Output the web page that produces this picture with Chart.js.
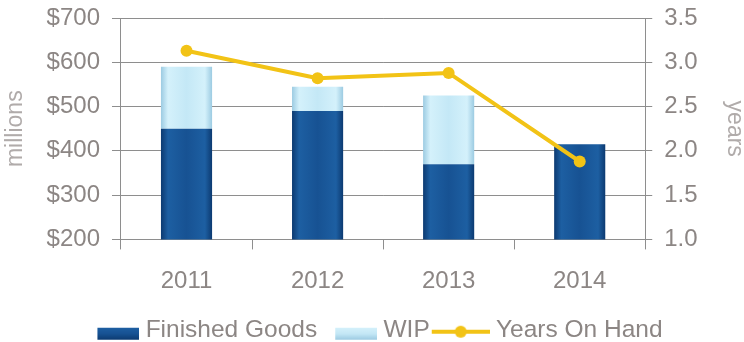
<!DOCTYPE html>
<html>
<head>
<meta charset="utf-8">
<script src="https://cdn.jsdelivr.net/npm/chart.js@4.4.0/dist/chart.umd.min.js"></script>
<style>
  html, body { margin: 0; padding: 0; background: #ffffff; overflow: hidden; }
  #wrap { width: 744px; height: 342px; position: relative; overflow: hidden; }
  #c { display: block; }
</style>
</head>
<body>
<div id="wrap"><canvas id="c" width="744" height="352"></canvas></div>
<script>
// Inventory by year
const years = ['2011', '2012', '2013', '2014'];
const finishedGoods = [450, 490, 370, 415];   // $ millions
const wip = [140, 55, 155, 0];                // $ millions
const yearsOnHand = [3.13, 2.82, 2.88, 1.88]; // years

const leftTicks = [200, 300, 400, 500, 600, 700];
const rightTicks = [1.0, 1.5, 2.0, 2.5, 3.0, 3.5];

const TEXT = '#8c8684';
const TITLE = '#b0abaa';
const AXIS = '#8e8e8e';
const GOLD = '#f2c316';
const FONT = 'Liberation Sans, Arial, sans-serif';
const BAR_PCT = 0.39;

const darkStops = ['#0c3a71', '#1d5fa2', '#175293', '#1d5fa2', '#0c3a71'];
const lightStops = ['#9ccbe2', '#d4f1fb', '#c4e8f6', '#d4f1fb', '#9ccbe2'];

function barGradient(stops, fallback) {
  return function (c) {
    const chart = c.chart;
    const xs = chart.scales && chart.scales.x;
    if (!chart.chartArea || !xs) return fallback;
    const cx = xs.getPixelForValue(c.dataIndex);
    const w = (xs.width / years.length) * BAR_PCT;
    const g = chart.ctx.createLinearGradient(cx - w / 2, 0, cx + w / 2, 0);
    g.addColorStop(0, stops[0]);
    g.addColorStop(0.14, stops[1]);
    g.addColorStop(0.5, stops[2]);
    g.addColorStop(0.86, stops[3]);
    g.addColorStop(1, stops[4]);
    return g;
  };
}

// legend symbols: drawn flush right inside a wider transparent canvas
const SYM_W = 62;
const SYM_H = 22;
function swatch(stops) {
  const cv = document.createElement('canvas');
  cv.width = SYM_W; cv.height = SYM_H;
  const x = cv.getContext('2d');
  const g = x.createLinearGradient(0, 9, 0, 21);
  g.addColorStop(0, stops[1]);
  g.addColorStop(0.5, stops[2]);
  g.addColorStop(1, stops[0]);
  x.fillStyle = g;
  x.fillRect(SYM_W - 42, 9, 42, 12);
  return cv;
}
function lineSwatch() {
  const cv = document.createElement('canvas');
  cv.width = SYM_W; cv.height = SYM_H;
  const x = cv.getContext('2d');
  x.strokeStyle = GOLD; x.lineWidth = 4;
  x.beginPath(); x.moveTo(SYM_W - 58, 13); x.lineTo(SYM_W, 13); x.stroke();
  x.fillStyle = GOLD;
  x.beginPath(); x.arc(SYM_W - 29, 13, 6, 0, Math.PI * 2); x.fill();
  return cv;
}
const legendSymbols = [swatch(darkStops), swatch(lightStops), lineSwatch()];
const legendNames = ['Finished Goods', 'WIP', 'Years On Hand'];

new Chart(document.getElementById('c'), {
  data: {
    labels: years,
    datasets: [
      {
        type: 'line',
        label: 'Years On Hand',
        data: yearsOnHand,
        yAxisID: 'y1',
        borderColor: GOLD,
        backgroundColor: GOLD,
        borderWidth: 4,
        pointRadius: 6,
        pointBackgroundColor: GOLD,
        pointBorderWidth: 0,
        tension: 0,
        order: 0
      },
      {
        type: 'bar',
        label: 'Finished Goods',
        data: finishedGoods,
        yAxisID: 'y',
        stack: 'inv',
        backgroundColor: barGradient(darkStops, '#1a5696'),
        borderWidth: 0,
        barPercentage: BAR_PCT,
        categoryPercentage: 1,
        order: 1
      },
      {
        type: 'bar',
        label: 'WIP',
        data: wip,
        yAxisID: 'y',
        stack: 'inv',
        backgroundColor: barGradient(lightStops, '#c6eaf8'),
        borderWidth: 0,
        barPercentage: BAR_PCT,
        categoryPercentage: 1,
        order: 1
      }
    ]
  },
  options: {
    responsive: false,
    animation: false,
    devicePixelRatio: 1,
    layout: { padding: { top: 0, left: 2, right: 0, bottom: 0 } },
    plugins: {
      tooltip: { enabled: false },
      legend: {
        position: 'bottom',
        labels: {
          color: TEXT,
          font: { family: FONT, size: 24.5 },
          usePointStyle: true,
          pointStyleWidth: 50,
          boxHeight: 14,
          padding: 4,
          generateLabels: function () {
            return legendNames.map(function (t, i) {
              return {
                text: t,
                fontColor: TEXT,
                pointStyle: legendSymbols[i],
                hidden: false,
                datasetIndex: i,
                lineWidth: 0
              };
            });
          }
        }
      }
    },
    scales: {
      x: {
        stacked: true,
        offset: true,
        grid: {
          display: true,
          offset: true,
          drawOnChartArea: false,
          drawTicks: true,
          tickLength: 10,
          color: AXIS
        },
        border: { display: true, color: AXIS },
        ticks: { color: TEXT, font: { family: FONT, size: 24, lineHeight: 1.67 }, padding: 12 }
      },
      y: {
        position: 'left',
        stacked: true,
        min: 200,
        max: 700,
        afterBuildTicks: function (s) { s.ticks = leftTicks.map(function (v) { return { value: v }; }); },
        grid: { color: AXIS, tickLength: 9 },
        border: { display: true, color: AXIS },
        ticks: {
          color: TEXT,
          font: { family: FONT, size: 24, lineHeight: 0.5 },
          padding: 12,
          callback: function (v) { return '$' + v; }
        },
        title: {
          display: true,
          text: 'millions',
          color: TITLE,
          font: { family: FONT, size: 23 },
          padding: { top: 0, bottom: 5 }
        }
      },
      y1: {
        position: 'right',
        min: 1,
        max: 3.5,
        afterBuildTicks: function (s) { s.ticks = rightTicks.map(function (v) { return { value: v }; }); },
        grid: { drawOnChartArea: false, color: AXIS, tickLength: 7 },
        border: { display: true, color: AXIS },
        ticks: {
          color: TEXT,
          font: { family: FONT, size: 24, lineHeight: 0.5 },
          padding: 12,
          callback: function (v) { return Number(v).toFixed(1); }
        },
        title: {
          display: true,
          text: 'years',
          color: TITLE,
          font: { family: FONT, size: 23, lineHeight: 0.8 },
          padding: { top: 0, bottom: 16 }
        }
      }
    }
  }
});
</script>
</body>
</html>
